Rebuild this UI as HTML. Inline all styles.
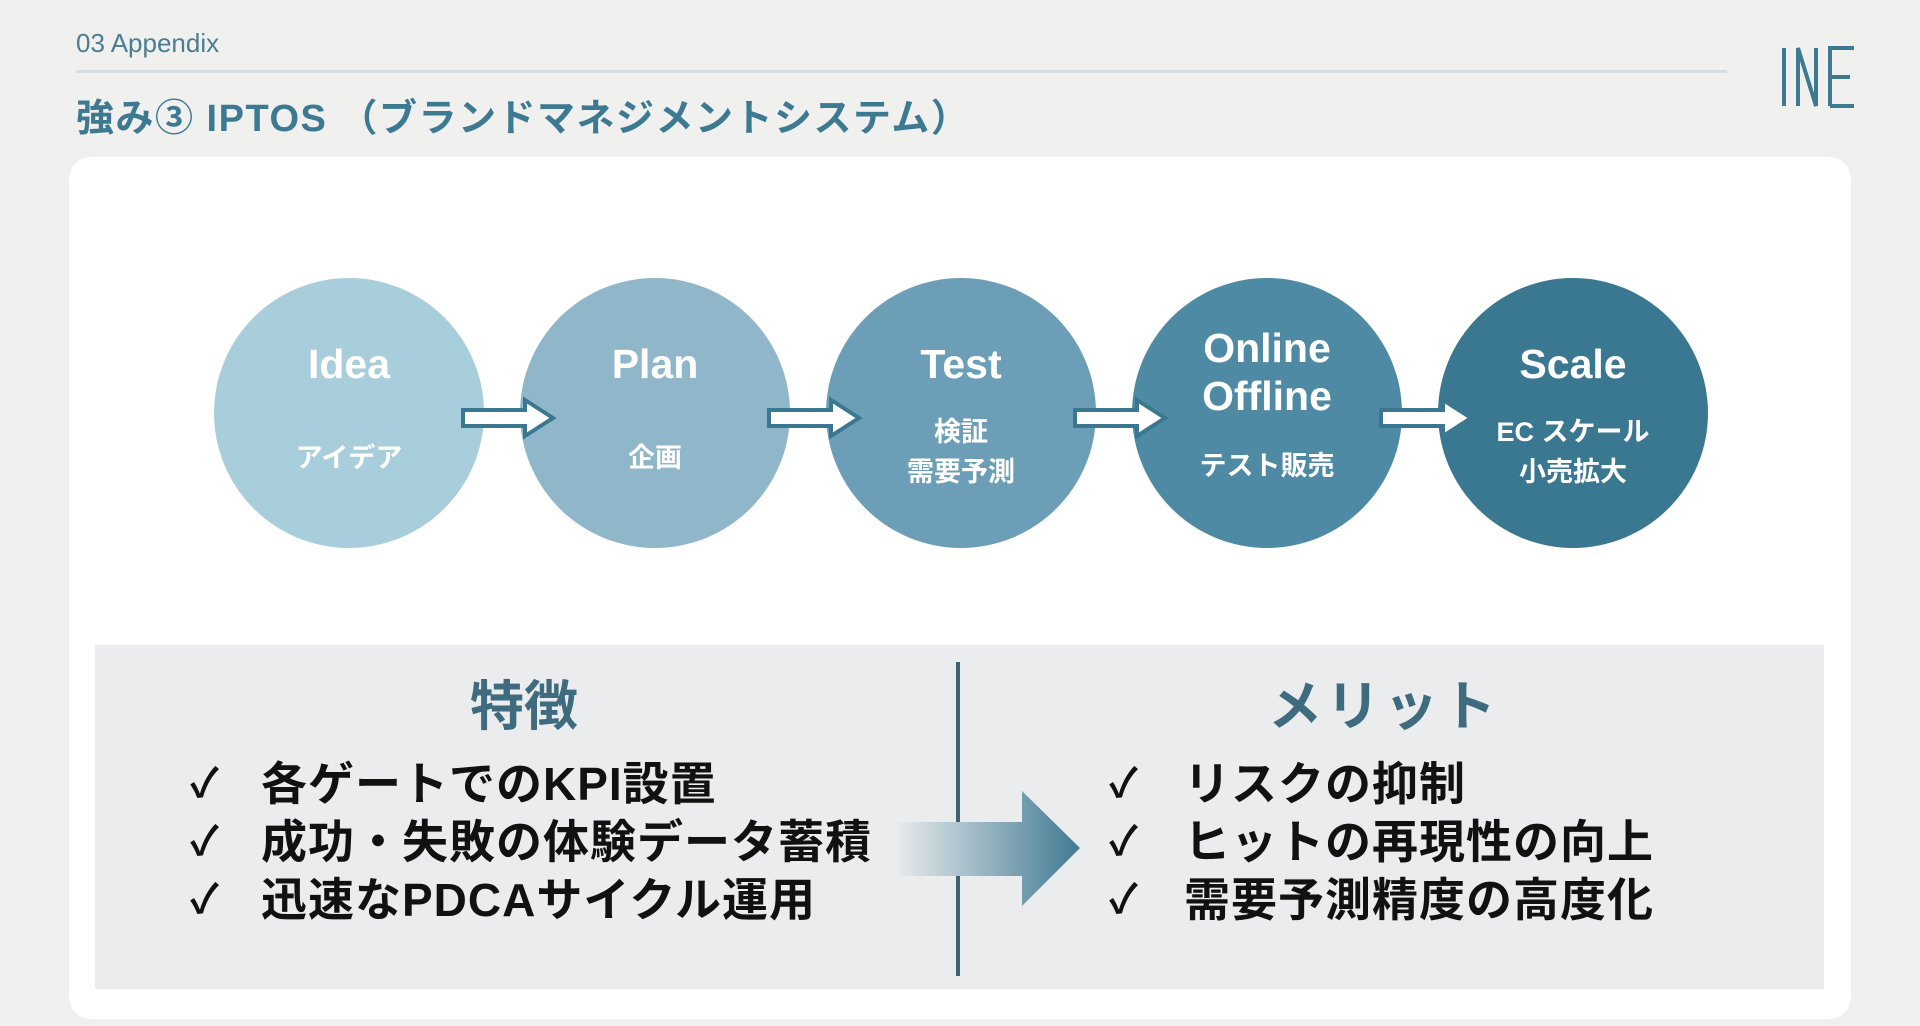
<!DOCTYPE html>
<html><head><meta charset="utf-8"><style>
body{margin:0;width:1920px;height:1026px;background:#f0f0ee;position:relative;overflow:hidden;font-family:"Liberation Sans","Noto Sans CJK JP",sans-serif}
.a{position:absolute}
.c{position:absolute;width:270px;height:270px;border-radius:50%;top:278px;color:#fff;text-align:center;font-weight:bold}
.c .t{position:absolute;left:0;right:0;font-size:41px;line-height:48px}
.c .s{position:absolute;left:0;right:0;font-size:27px;line-height:40px}
.it{position:absolute;font-size:46px;font-weight:bold;color:#111;line-height:58px;white-space:nowrap;letter-spacing:1px}
.ck{position:absolute;font-size:40px;font-weight:bold;color:#111;line-height:58px}
</style></head><body>
<div class="a" style="left:76px;top:28px;font-size:26px;color:#4a7d92">03 Appendix</div>
<div class="a" style="left:76px;top:70px;width:1651px;height:3px;background:#d3dee2"></div>
<div class="a" style="left:76px;top:87px;font-size:38px;letter-spacing:1.5px;font-weight:bold;color:#3d7a92;white-space:nowrap">強み③ IPTOS （ブランドマネジメントシステム）</div>
<svg class="a" style="left:1780px;top:46px" width="78" height="62"><g stroke="#3d7a92" stroke-width="4" fill="none"><path d="M4 2V60M18 60V2L36 60V2M50 60V2H74M50 31H70M50 60H74"/></g></svg>
<div class="a" style="left:69px;top:157px;width:1782px;height:862px;background:#fff;border-radius:22px"></div>

<div class="c" style="left:214px;background:#a9cedb"><div class="t" style="top:62px">Idea</div><div class="s" style="top:160px">アイデア</div></div>
<div class="c" style="left:520px;background:#8fb7c9"><div class="t" style="top:62px">Plan</div><div class="s" style="top:160px">企画</div></div>
<div class="c" style="left:826px;background:#6c9fb7"><div class="t" style="top:62px">Test</div><div class="s" style="top:134px;line-height:40px">検証<br>需要予測</div></div>
<div class="c" style="left:1132px;background:#4f8aa5"><div class="t" style="top:46px">Online<br>Offline</div><div class="s" style="top:168px">テスト販売</div></div>
<div class="c" style="left:1438px;background:#3a7790"><div class="t" style="top:62px">Scale</div><div class="s" style="top:134px">EC スケール<br>小売拡大</div></div>

<svg class="a" style="left:0;top:0" width="1920" height="1026">
<g fill="#fff" stroke="#3a7790" stroke-width="4">
<path d="M463 410H525V400L553 418L525 436V426H463Z"/>
<path d="M769 410H831V400L859 418L831 436V426H769Z"/>
<path d="M1075 410H1137V400L1165 418L1137 436V426H1075Z"/>
<path d="M1381 410H1443V400L1471 418L1443 436V426H1381Z"/>
</g>
</svg>

<div class="a" style="left:95px;top:645px;width:1729px;height:344px;background:#ebecee"></div>
<div class="a" style="left:956px;top:662px;width:4px;height:314px;background:#3d6373"></div>
<svg class="a" style="left:890px;top:788px" width="195" height="122">
<defs><linearGradient id="g" x1="0" x2="1"><stop offset="0" stop-color="#ebecee"/><stop offset="1" stop-color="#3f7a92"/></linearGradient></defs>
<path d="M4 34H132V3L190 60L132 118V88H4Z" fill="url(#g)"/>
</svg>
<div class="a" style="left:424px;top:662px;width:200px;text-align:center;font-size:54px;font-weight:bold;color:#3f6b7e">特徴</div>
<div class="a" style="left:1234px;top:662px;width:300px;text-align:center;font-size:54px;font-weight:bold;color:#3f6b7e;letter-spacing:4px">メリット</div>
<div class="ck" style="left:190px;top:755px">✓</div><div class="it" style="left:261px;top:755px">各ゲートでのKPI設置</div>
<div class="ck" style="left:190px;top:813px">✓</div><div class="it" style="left:261px;top:813px">成功・失敗の体験データ蓄積</div>
<div class="ck" style="left:190px;top:871px">✓</div><div class="it" style="left:261px;top:871px">迅速なPDCAサイクル運用</div>
<div class="ck" style="left:1109px;top:755px">✓</div><div class="it" style="left:1184px;top:755px">リスクの抑制</div>
<div class="ck" style="left:1109px;top:813px">✓</div><div class="it" style="left:1184px;top:813px">ヒットの再現性の向上</div>
<div class="ck" style="left:1109px;top:871px">✓</div><div class="it" style="left:1184px;top:871px">需要予測精度の高度化</div>
</body></html>
